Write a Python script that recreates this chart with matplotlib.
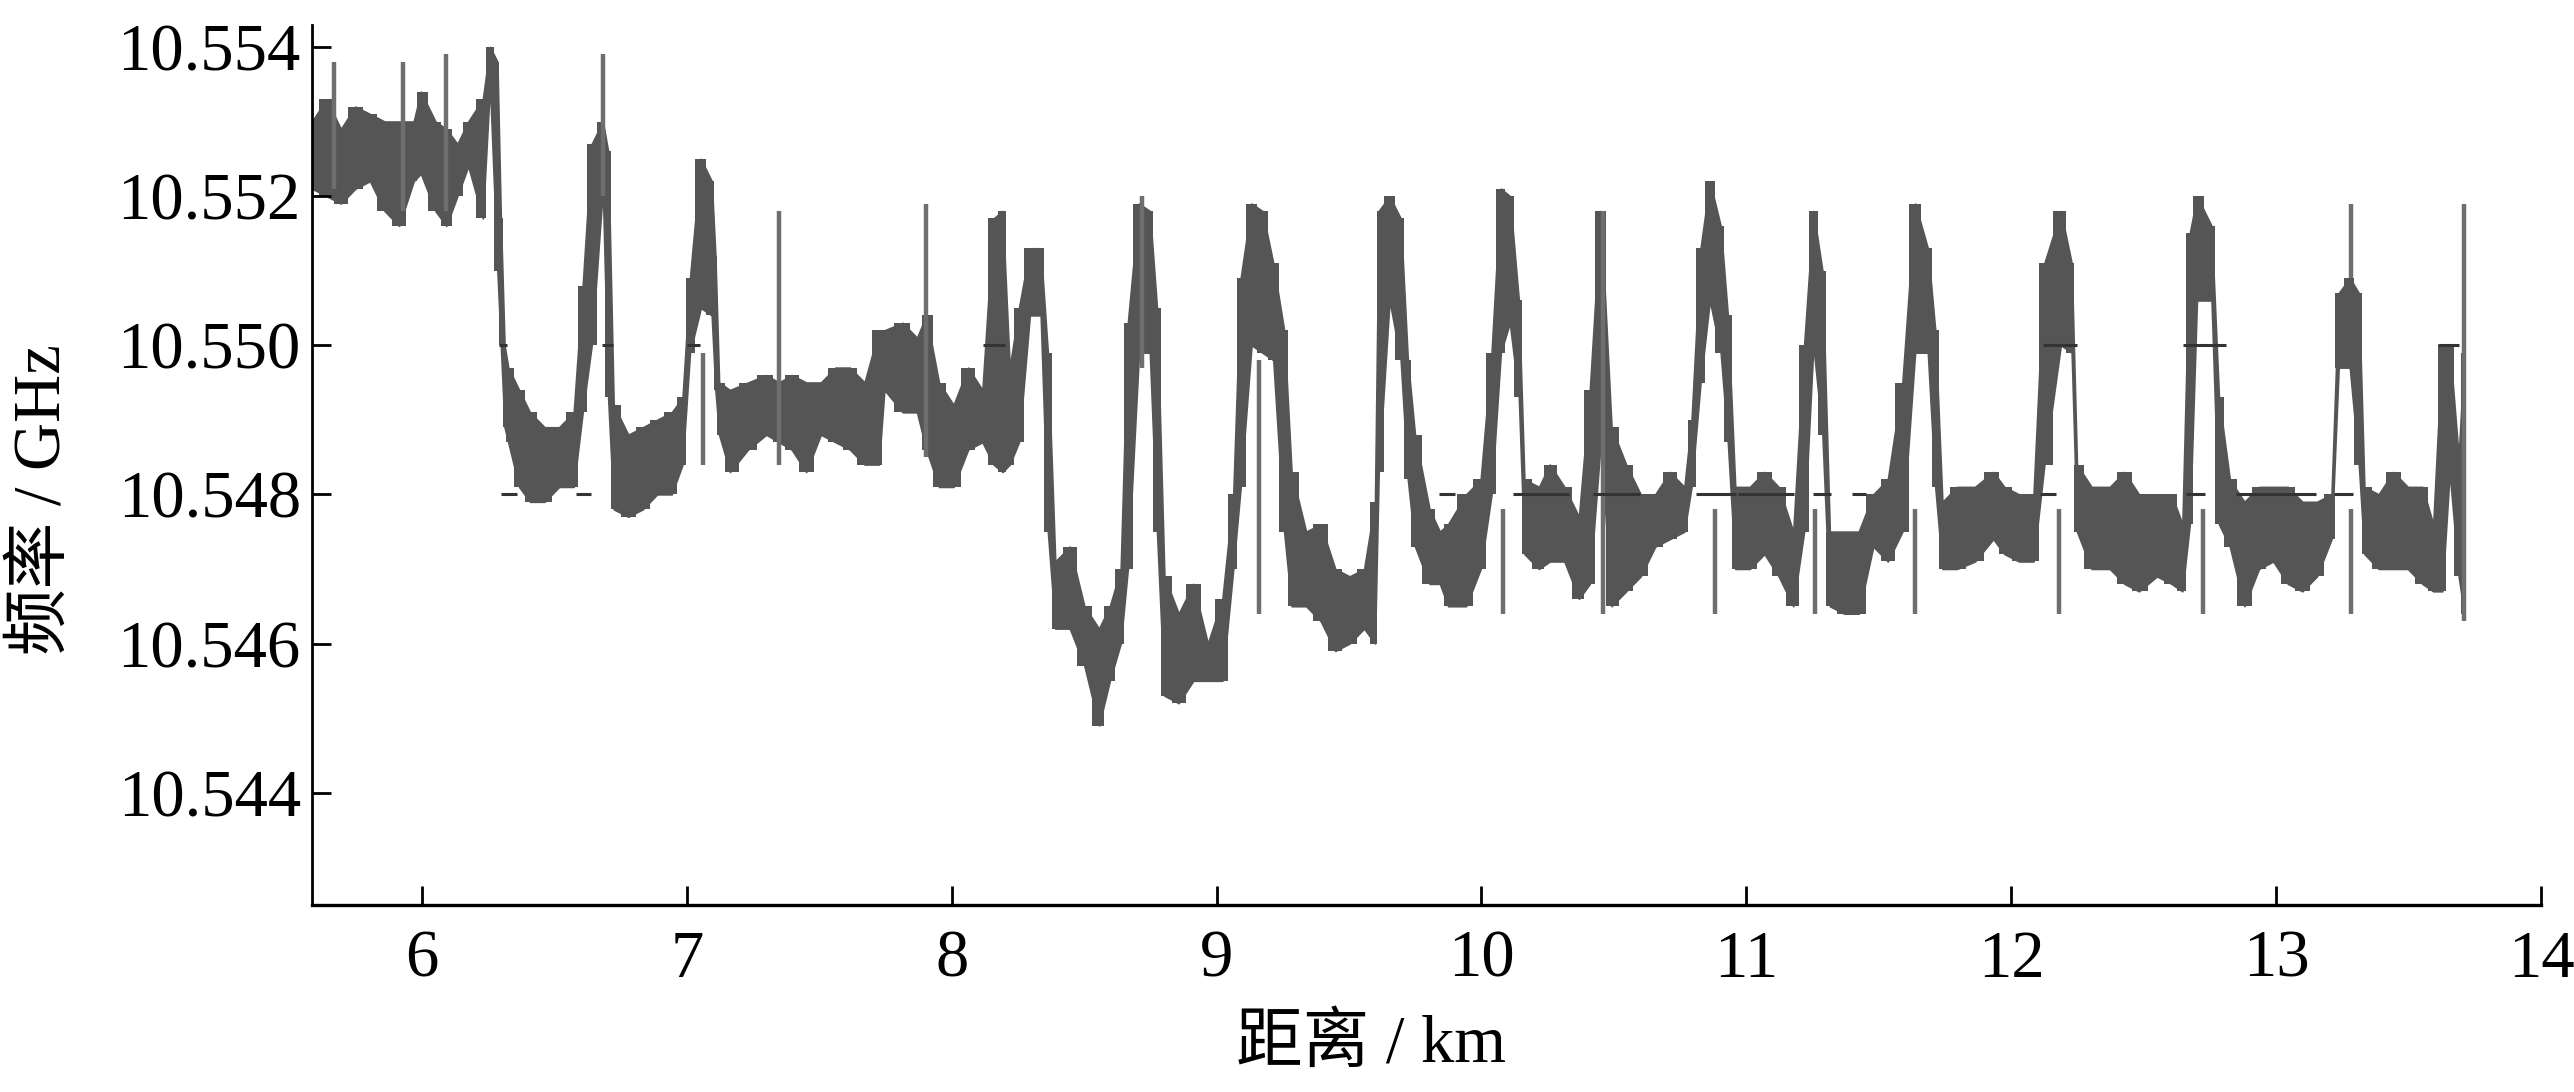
import numpy as np
import matplotlib.pyplot as plt

plt.rcParams['font.family'] = ['Liberation Serif', 'Noto Sans CJK SC']
plt.rcParams['axes.unicode_minus'] = False

# 距离 (km) 与频率带的上下沿 (GHz)
dist = [5.585, 5.640, 5.694, 5.749, 5.804, 5.859, 5.914, 5.969, 5.996, 6.051,
        6.092, 6.134, 6.175, 6.230, 6.257, 6.285, 6.298, 6.312, 6.326, 6.367,
        6.408, 6.463, 6.518, 6.573, 6.607, 6.641, 6.683, 6.703, 6.724, 6.779,
        6.834, 6.888, 6.943, 6.984, 7.012, 7.053, 7.094, 7.108, 7.122, 7.163,
        7.231, 7.300, 7.348, 7.396, 7.451, 7.506, 7.561, 7.616, 7.671, 7.725,
        7.746, 7.815, 7.869, 7.904, 7.952, 8.007, 8.062, 8.116, 8.158, 8.192,
        8.219, 8.254, 8.295, 8.336, 8.363, 8.391, 8.446, 8.501, 8.556, 8.597,
        8.638, 8.665, 8.707, 8.748, 8.775, 8.803, 8.857, 8.912, 8.967, 9.022,
        9.063, 9.091, 9.132, 9.173, 9.214, 9.255, 9.283, 9.338, 9.393, 9.448,
        9.502, 9.557, 9.598, 9.612, 9.653, 9.695, 9.722, 9.749, 9.804, 9.843,
        9.874, 9.942, 9.997, 10.038, 10.073, 10.107, 10.141, 10.162, 10.217, 10.258,
        10.313, 10.368, 10.409, 10.450, 10.491, 10.546, 10.601, 10.656, 10.711, 10.766,
        10.793, 10.827, 10.862, 10.903, 10.930, 10.958, 11.013, 11.068, 11.122, 11.177,
        11.218, 11.253, 11.287, 11.315, 11.369, 11.424, 11.479, 11.534, 11.589, 11.637,
        11.685, 11.713, 11.740, 11.795, 11.863, 11.932, 11.974, 12.029, 12.084, 12.125,
        12.187, 12.228, 12.248, 12.303, 12.372, 12.427, 12.482, 12.550, 12.605, 12.646,
        12.674, 12.701, 12.756, 12.784, 12.825, 12.880, 12.935, 12.989, 13.044, 13.099,
        13.154, 13.209, 13.236, 13.278, 13.312, 13.333, 13.387, 13.442, 13.497, 13.552,
        13.593, 13.627, 13.655, 13.689, 13.710]

freq_hi = [10.5530, 10.5533, 10.5529, 10.5532, 10.5531, 10.5530, 10.5530, 10.5530, 10.5534, 10.5530,
           10.5529, 10.5527, 10.5530, 10.5533, 10.5540, 10.5538, 10.5517, 10.5500, 10.5497, 10.5494,
           10.5491, 10.5489, 10.5489, 10.5491, 10.5508, 10.5527, 10.5530, 10.5526, 10.5492, 10.5488,
           10.5489, 10.5490, 10.5491, 10.5493, 10.5509, 10.5525, 10.5522, 10.5512, 10.5495, 10.5494,
           10.5495, 10.5496, 10.5495, 10.5496, 10.5495, 10.5495, 10.5497, 10.5497, 10.5495, 10.5502,
           10.5502, 10.5503, 10.5501, 10.5504, 10.5495, 10.5492, 10.5497, 10.5494, 10.5517, 10.5518,
           10.5497, 10.5505, 10.5513, 10.5513, 10.5499, 10.5471, 10.5473, 10.5465, 10.5462, 10.5465,
           10.5470, 10.5503, 10.5519, 10.5518, 10.5505, 10.5469, 10.5464, 10.5468, 10.5460, 10.5466,
           10.5480, 10.5509, 10.5519, 10.5518, 10.5511, 10.5502, 10.5483, 10.5475, 10.5476, 10.5470,
           10.5469, 10.5470, 10.5479, 10.5518, 10.5520, 10.5517, 10.5498, 10.5488, 10.5478, 10.5475,
           10.5476, 10.5480, 10.5482, 10.5499, 10.5521, 10.5520, 10.5506, 10.5482, 10.5481, 10.5484,
           10.5481, 10.5477, 10.5494, 10.5518, 10.5489, 10.5484, 10.5480, 10.5480, 10.5483, 10.5481,
           10.5490, 10.5513, 10.5522, 10.5516, 10.5504, 10.5481, 10.5481, 10.5483, 10.5481, 10.5475,
           10.5500, 10.5518, 10.5510, 10.5475, 10.5475, 10.5475, 10.5480, 10.5482, 10.5495, 10.5519,
           10.5513, 10.5502, 10.5479, 10.5481, 10.5481, 10.5483, 10.5481, 10.5480, 10.5480, 10.5511,
           10.5518, 10.5511, 10.5484, 10.5481, 10.5481, 10.5483, 10.5480, 10.5480, 10.5480, 10.5476,
           10.5515, 10.5520, 10.5516, 10.5493, 10.5482, 10.5479, 10.5481, 10.5481, 10.5481, 10.5479,
           10.5479, 10.5480, 10.5507, 10.5509, 10.5507, 10.5481, 10.5480, 10.5483, 10.5481, 10.5481,
           10.5476, 10.5500, 10.5500, 10.5485, 10.5499]

freq_lo = [10.5521, 10.5520, 10.5519, 10.5521, 10.5522, 10.5518, 10.5516, 10.5522, 10.5523, 10.5518,
           10.5516, 10.5520, 10.5524, 10.5517, 10.5535, 10.5510, 10.5500, 10.5489, 10.5487, 10.5481,
           10.5479, 10.5479, 10.5481, 10.5481, 10.5491, 10.5500, 10.5521, 10.5493, 10.5478, 10.5477,
           10.5478, 10.5480, 10.5480, 10.5484, 10.5499, 10.5505, 10.5504, 10.5494, 10.5488, 10.5483,
           10.5486, 10.5488, 10.5487, 10.5486, 10.5483, 10.5488, 10.5487, 10.5486, 10.5484, 10.5484,
           10.5494, 10.5491, 10.5491, 10.5486, 10.5481, 10.5481, 10.5486, 10.5487, 10.5484, 10.5483,
           10.5484, 10.5487, 10.5504, 10.5504, 10.5475, 10.5462, 10.5462, 10.5457, 10.5449, 10.5455,
           10.5460, 10.5470, 10.5499, 10.5499, 10.5475, 10.5453, 10.5452, 10.5455, 10.5455, 10.5455,
           10.5470, 10.5481, 10.5500, 10.5499, 10.5498, 10.5475, 10.5465, 10.5465, 10.5463, 10.5459,
           10.5460, 10.5462, 10.5460, 10.5483, 10.5506, 10.5498, 10.5482, 10.5473, 10.5468, 10.5468,
           10.5465, 10.5465, 10.5470, 10.5480, 10.5499, 10.5503, 10.5493, 10.5472, 10.5470, 10.5471,
           10.5471, 10.5466, 10.5468, 10.5487, 10.5465, 10.5467, 10.5469, 10.5473, 10.5474, 10.5475,
           10.5481, 10.5495, 10.5506, 10.5499, 10.5487, 10.5470, 10.5470, 10.5472, 10.5469, 10.5465,
           10.5475, 10.5500, 10.5488, 10.5465, 10.5464, 10.5464, 10.5473, 10.5471, 10.5475, 10.5499,
           10.5499, 10.5481, 10.5470, 10.5470, 10.5471, 10.5474, 10.5472, 10.5471, 10.5471, 10.5484,
           10.5500, 10.5499, 10.5475, 10.5470, 10.5470, 10.5468, 10.5467, 10.5469, 10.5468, 10.5467,
           10.5476, 10.5506, 10.5506, 10.5476, 10.5473, 10.5465, 10.5470, 10.5471, 10.5468, 10.5467,
           10.5469, 10.5474, 10.5497, 10.5497, 10.5484, 10.5472, 10.5470, 10.5470, 10.5470, 10.5468,
           10.5467, 10.5467, 10.5483, 10.5469, 10.5464]

# 细的竖直尖峰 (位置, 下端, 上端)
spike_x = [5.667, 5.928, 6.092, 6.683, 7.060, 7.348, 7.904, 8.717, 9.160,
           10.080, 10.457, 10.882, 11.260, 11.637, 12.180, 12.722, 13.284, 13.284, 13.710]
spike_lo = [10.5521, 10.5518, 10.5518, 10.5520, 10.5484, 10.5484, 10.5485, 10.5497, 10.5464,
            10.5464, 10.5464, 10.5464, 10.5464, 10.5464, 10.5464, 10.5464, 10.5464, 10.5509, 10.5463]
spike_hi = [10.5538, 10.5538, 10.5539, 10.5539, 10.5499, 10.5518, 10.5519, 10.5520, 10.5498,
            10.5478, 10.5518, 10.5478, 10.5478, 10.5478, 10.5478, 10.5478, 10.5478, 10.5519, 10.5519]

# 10.548 与 10.550 处的短横线 (起点, 终点, 频率)
dash_x0 = [6.30, 6.58, 6.29, 6.68, 7.00, 8.12, 9.84, 10.12, 10.42, 10.81, 10.97, 11.25,
           11.40, 12.11, 12.66, 12.85, 13.22, 12.12, 12.65, 13.61]
dash_x1 = [6.36, 6.64, 6.32, 6.72, 7.05, 8.20, 9.90, 10.33, 10.60, 10.96, 11.18, 11.32,
           11.45, 12.17, 12.73, 13.15, 13.29, 12.25, 12.81, 13.69]
dash_y = [10.5480, 10.5480, 10.5500, 10.5500, 10.5500, 10.5500, 10.5480, 10.5480, 10.5480, 10.5480,
          10.5480, 10.5480, 10.5480, 10.5480, 10.5480, 10.5480, 10.5480, 10.5500, 10.5500, 10.5500]

x_ticks = [6, 7, 8, 9, 10, 11, 12, 13, 14]
y_ticks = [10.544, 10.546, 10.548, 10.550, 10.552, 10.554]

fig = plt.figure(figsize=(12.87, 5.46), dpi=200)
ax = fig.add_axes([0.1212, 0.1717, 0.866, 0.8058])

# 频率带：线性连接 + 阶梯块叠加，得到连续又带锯齿的效果
ax.fill_between(dist, freq_lo, freq_hi, color='#555555', lw=0.6, edgecolor='#555555')
ax.fill_between(dist, freq_lo, freq_hi, step='mid', color='#555555', lw=0)
ax.vlines(spike_x, spike_lo, spike_hi, color='#6e6e6e', lw=1.6)
ax.hlines(dash_y, dash_x0, dash_x1, color='#333333', lw=1.1)

ax.set_xlim(5.585, 14.0)
ax.set_ylim(10.5425, 10.5543)
ax.set_xticks(x_ticks)
ax.set_yticks(y_ticks)
ax.set_yticklabels([f'{v:.3f}' for v in y_ticks])

for s in ['top', 'right']:
    ax.spines[s].set_visible(False)
ax.spines['left'].set_linewidth(1.0)
ax.spines['bottom'].set_linewidth(1.2)
ax.tick_params(axis='both', direction='in', labelsize=24, width=1.0)
ax.tick_params(axis='y', length=7, pad=4)
ax.tick_params(axis='x', length=7, pad=9)

ax.set_xlabel('距离 / km', fontsize=24)
ax.set_ylabel('频率 / GHz', fontsize=24)
ax.xaxis.set_label_coords(0.475, -0.125)
ax.yaxis.set_label_coords(-0.107, 0.46)

fig.savefig('out.png', dpi=200)
